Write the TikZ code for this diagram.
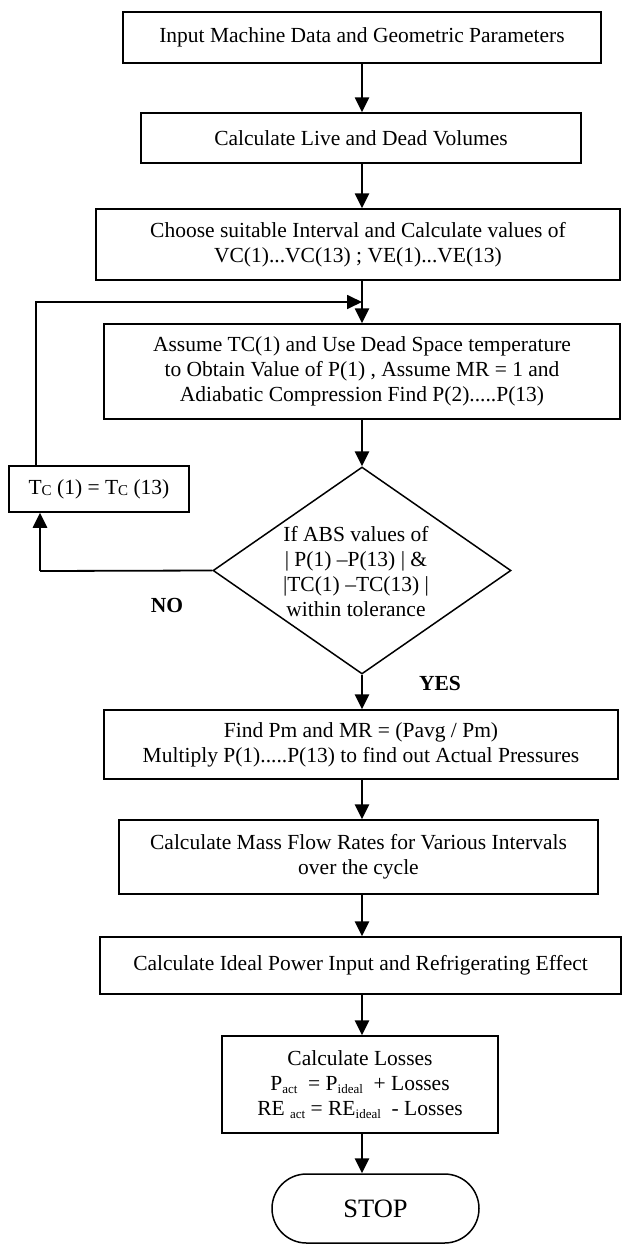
\documentclass[tikz,border=0pt]{standalone}
\usepackage{fontspec}
\setmainfont{Liberation Serif}
\usetikzlibrary{arrows.meta,shapes.geometric,shapes.misc}
\newcommand\lowsub[1]{\raisebox{-3pt}{\fontsize{13}{13}\selectfont #1}}
\newcommand\csub{\raisebox{-1.5pt}{\fontsize{15}{15}\selectfont C}}
\begin{document}
\begin{tikzpicture}[x=1pt,y=-1pt,
  every node/.style={font=\fontsize{21.5}{25}\selectfont},
  box/.style={draw, line width=1.5pt, inner sep=0pt, align=center, anchor=center},
  arr/.style={line width=2.6pt, -{Triangle[length=15pt,width=14pt]}},
  thinarr/.style={line width=1.8pt, -{Triangle[length=15pt,width=14pt]}},
  lbl/.style={font=\fontsize{21.5}{25}\selectfont\bfseries}]
\useasboundingbox (0,0) rectangle (622,1245);

\node[box, minimum width=478pt, minimum height=51pt] (b1) at (362,37.5)
  {Input Machine Data and Geometric Parameters};
\node[box, minimum width=440pt, minimum height=50pt] (b2) at (361,138)
  {Calculate Live and Dead Volumes};
\node[box, minimum width=524pt, minimum height=71pt] (b3) at (358,244.5)
  {Choose suitable Interval and Calculate values of\\VC(1)...VC(13) ; VE(1)...VE(13)};
\node[box, minimum width=516pt, minimum height=95pt] (b4) at (362,371.5)
  {Assume TC(1) and Use Dead Space temperature\\to Obtain Value of P(1) , Assume MR = 1 and\\Adiabatic Compression Find P(2).....P(13)};
\node[draw, diamond, line width=1.5pt, inner sep=0pt, minimum width=298pt, minimum height=207pt] (dia) at (362,570.5) {};
\node[align=center] (dtext) at (356,572)
  {If ABS values of\\| P(1) –P(13) | \&\\|TC(1) –TC(13) |\\within tolerance};
\node[box, minimum width=180pt, minimum height=46pt] (tc) at (99,489)
  {T\csub{} (1) = T\csub{} (13)};
\node[box, minimum width=514pt, minimum height=69pt] (b5) at (361,744.5)
  {Find Pm and MR = (Pavg / Pm)\\Multiply P(1).....P(13) to find out Actual Pressures};
\node[box, minimum width=479pt, minimum height=74pt] (b6) at (358.5,857)
  {Calculate Mass Flow Rates for Various Intervals\\over the cycle};
\node[box, minimum width=521pt, minimum height=57pt] (b7) at (360.5,965.5)
  {Calculate Ideal Power Input and Refrigerating Effect};
\node[box, minimum width=276pt, minimum height=97pt] (b8) at (360,1084.5)
  {Calculate Losses\\P\lowsub{act} \ = P\lowsub{ideal} \ + Losses\\RE \lowsub{act} = RE\lowsub{ideal} \ - Losses};
\node[draw, rounded rectangle, line width=1.5pt, inner sep=0pt, minimum width=207pt, minimum height=69pt, font=\fontsize{26.5}{30}\selectfont] (stop) at (375.5,1208.5)
  {STOP};

\node[lbl] (no) at (167,605) {NO};
\node[lbl] (yes) at (440,683) {YES};

\coordinate (col) at (362,0);
\coordinate (loopc) at (36,302);
\coordinate (nocorner) at (40,571);

\draw[arr] (b1.south -| col) -- (b2.north -| col);
\draw[arr] (b2.south -| col) -- (b3.north -| col);
\draw[arr] (b3.south -| col) -- (b4.north -| col);
\draw[arr] (b4.south -| col) -- (dia.north);
\draw[arr] (dia.south) -- (b5.north -| col);
\draw[arr] (b5.south -| col) -- (b6.north -| col);
\draw[arr] (b6.south -| col) -- (b7.north -| col);
\draw[arr] (b7.south -| col) -- (b8.north -| col);
\draw[arr] (b8.south -| col) -- (stop.north -| col);

\draw[thinarr] (loopc |- tc.north) -- (loopc) -- (loopc -| col);
\draw[line width=1.8pt] (dia.west) -- (nocorner);
\draw[arr] (nocorner) -- (nocorner |- tc.south);
\end{tikzpicture}
\end{document}
